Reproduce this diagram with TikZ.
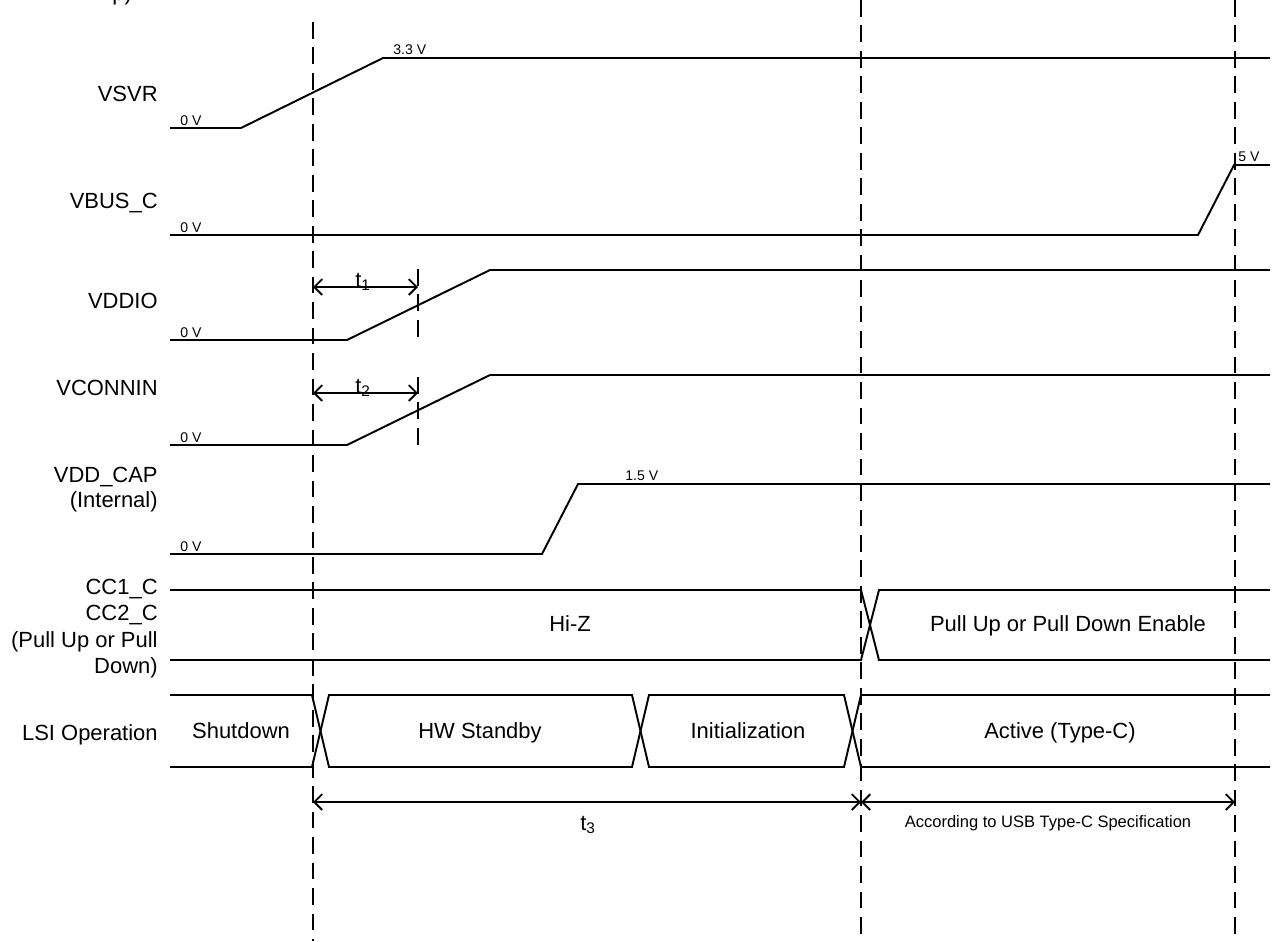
\documentclass[tikz,border=0pt]{standalone}
\usepackage{fontspec}
\setmainfont{Liberation Sans}
\usetikzlibrary{arrows.meta}
\begin{document}
\begin{tikzpicture}[x=0.02cm,y=-0.02cm,
 sig/.style={line width=1.1pt, line join=miter},
 guide/.style={line width=1.1pt, dash pattern=on 9.5pt off 5pt},
 lbl/.style={font=\fontsize{12.5}{14.8}\selectfont, inner sep=0pt, anchor=base east},
 val/.style={font=\fontsize{8}{9}\selectfont, inner sep=0pt, anchor=base west},
 boxtxt/.style={font=\fontsize{12.5}{15}\selectfont, inner sep=0pt, anchor=base},
 spec/.style={font=\fontsize{9.4}{11}\selectfont, inner sep=0pt, anchor=base},
 dim/.style={line width=1.1pt, {Straight Barb[length=4.5pt,width=9pt]}-{Straight Barb[length=4.5pt,width=9pt]}},
]
\useasboundingbox (0,0) rectangle (1279,941);

% cut-off title
\node[font=\fontsize{12.5}{15}\selectfont, inner sep=0pt, anchor=base west] (title) at (112,0) {p)};

% signal names
\node[lbl] (nVSVR) at (158,101) {VSVR};
\node[lbl] (nVBUS) at (158,208) {VBUS\_C};
\node[lbl] (nVDDIO) at (158,308) {VDDIO};
\node[lbl] (nVCON) at (158,395) {VCONNIN};
\node[lbl] (nCAP1) at (158,482) {VDD\_CAP};
\node[lbl] (nCAP2) at (158,507) {(Internal)};
\node[lbl] (nCC1) at (158,594) {CC1\_C};
\node[lbl] (nCC2) at (158,620) {CC2\_C};
\node[lbl] (nCC3) at (158,647) {(Pull Up or Pull};
\node[lbl] (nCC4) at (158,673) {Down)};
\node[lbl] (nLSI) at (158,740) {LSI Operation};

% guide lines
\coordinate (g1t) at (313,22);  \coordinate (g1b) at (313,941);
\coordinate (g2t) at (861,0);   \coordinate (g2b) at (861,941);
\coordinate (g3t) at (1235,0);  \coordinate (g3b) at (1235,941);
\coordinate (s1t) at (418,269); \coordinate (s1b) at (418,341);
\coordinate (s2t) at (418,377); \coordinate (s2b) at (418,448);
\draw[guide] (g1t) -- (g1b);
\draw[guide] (g2t) -- (g2b);
\draw[guide] (g3t) -- (g3b);
\draw[guide] (s1t) -- (s1b);
\draw[guide] (s2t) -- (s2b);

% waveforms
\draw[sig] (170,128) -- (241,128) -- (383,58) -- (1270,58);
\draw[sig] (170,235) -- (1198,235) -- (1234,165) -- (1270,165);
\draw[sig] (170,340) -- (347,340) -- (490,270) -- (1270,270);
\draw[sig] (170,445) -- (347,445) -- (490,375) -- (1270,375);
\draw[sig] (170,554) -- (542,554) -- (578,484) -- (1270,484);

\node[val] (v1) at (180,125) {0 V};
\node[val] (v2) at (393,54) {3.3 V};
\node[val] (v3) at (180,232) {0 V};
\node[val] (v4) at (1238,161) {5 V};
\node[val] (v5) at (180,337) {0 V};
\node[val] (v6) at (180,442) {0 V};
\node[val] (v7) at (180,551) {0 V};
\node[val] (v8) at (625,480) {1.5 V};

% CC bus
\draw[sig] (170,590) -- (861,590) -- (879,660) -- (1270,660);
\draw[sig] (170,660) -- (861,660) -- (879,590) -- (1270,590);
\node[boxtxt] (hiz) at (570,631) {Hi-Z};
\node[boxtxt] (pud) at (1068,631) {Pull Up or Pull Down Enable};

% LSI operation bus
\draw[sig] (170,695) -- (312,695) -- (329,767) -- (632,767) -- (649,695) -- (844,695) -- (861,767) -- (1270,767);
\draw[sig] (170,767) -- (312,767) -- (329,695) -- (632,695) -- (649,767) -- (844,767) -- (861,695) -- (1270,695);
\node[boxtxt] (sd) at (241,738) {Shutdown};
\node[boxtxt] (hw) at (480,738) {HW Standby};
\node[boxtxt] (ini) at (748,738) {Initialization};
\node[boxtxt] (act) at (1060,738) {Active (Type-C)};

% dimensions
\coordinate (t1a) at (313,287); \coordinate (t1b) at (418,287);
\coordinate (t2a) at (313,393); \coordinate (t2b) at (418,393);
\coordinate (t3a) at (313,802); \coordinate (t3b) at (861,802);
\coordinate (t4b) at (1235,802);
\draw[dim] (t1a) -- (t1b);
\draw[dim] (t2a) -- (t2b);
\draw[dim] (t3a) -- (t3b);
\draw[dim] (t3b) -- (t4b);
\node[boxtxt, anchor=base west] (lt1) at (355,287) {t\textsubscript{1}};
\node[boxtxt, anchor=base west] (lt2) at (355,393) {t\textsubscript{2}};
\node[boxtxt, anchor=base west] (lt3) at (580,830) {t\textsubscript{3}};
\node[spec] (usb) at (1048,827) {According to USB Type-C Specification};
\end{tikzpicture}
\end{document}
